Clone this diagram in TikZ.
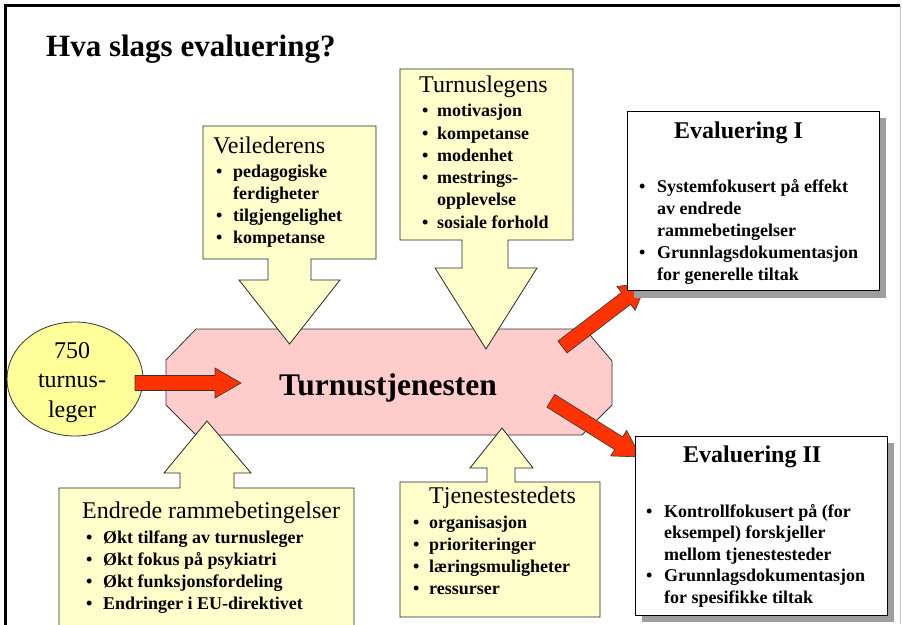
\documentclass[tikz,border=0pt]{standalone}
\usepackage{fontspec}
\setmainfont{Liberation Serif}
\usetikzlibrary{positioning}
\definecolor{lysgul}{HTML}{FFFFCC}
\definecolor{gul}{HTML}{FFFF99}
\definecolor{rosa}{HTML}{FFCCCC}
\definecolor{rod}{HTML}{FF3300}
\definecolor{skygge}{HTML}{9E9E9E}
\tikzset{rodpil/.pic={\draw[pil] (0,-7.5) -- (80,-7.5) -- (80,-15) -- (106,0) -- (80,15) -- (80,7.5) -- (0,7.5) -- cycle;}}
\begin{document}
\begin{tikzpicture}[x=1pt,y=-1pt,
 callout/.style={draw=black!85,fill=lysgul,line width=0.8pt},
 pil/.style={draw=black!80,fill=rod,line width=0.6pt},
 overskrift/.style={anchor=base west,inner sep=0pt,font=\fontsize{24}{28}\selectfont},
 evaltittel/.style={anchor=base west,inner sep=0pt,font=\fontsize{24}{28}\selectfont\bfseries},
 punkt/.style={anchor=base west,inner sep=0pt,font=\fontsize{18}{22}\selectfont\bfseries},
 prikk/.style={anchor=base west,inner sep=0pt,font=\fontsize{18}{22}\selectfont\bfseries}]
\useasboundingbox (0,0) rectangle (902,624);
% frame
\draw[line width=3pt] (5,626) -- (5,5) -- (900,5);
\draw[skygge!60,line width=0.8pt] (900.5,5) -- (900.5,624);
\node[anchor=base west,inner sep=0pt,font=\fontsize{31}{36}\selectfont\bfseries] (tittel) at (46,56) {Hva slags evaluering?};
% the service
\draw[draw=black!80,fill=rosa,line width=0.8pt] (196,329) -- (585,329) -- (612,361) -- (612,405) -- (582,435) -- (196,435) -- (166,405) -- (166,360) -- cycle;
% callouts
\draw[callout] (203,126) -- (376,126) -- (376,259) -- (311,259) -- (311,280) -- (340,280) -- (289.5,344) -- (239,280) -- (268,280) -- (268,259) -- (203,259) -- cycle;
\draw[callout] (400,69) -- (573,69) -- (573,240) -- (508,240) -- (508,268) -- (537,268) -- (486,349) -- (435,268) -- (462,268) -- (462,240) -- (400,240) -- cycle;
\draw[callout] (59,640) -- (59,488) -- (180,488) -- (180,473) -- (164,473) -- (207,421) -- (251,473) -- (234,473) -- (234,488) -- (354,488) -- (354,640);
\draw[callout] (400,617) -- (400,482) -- (487,482) -- (487,468) -- (470,468) -- (502,428) -- (533,468) -- (515,468) -- (515,482) -- (600,482) -- (600,617) -- cycle;
% doctors
\draw[draw=black!80,fill=gul,line width=0.8pt] (75,379) ellipse [x radius=68,y radius=57];
\foreach \t [count=\i] in {750,turnus-,leger}
 \node[anchor=base,inner sep=0pt,font=\fontsize{24}{28}\selectfont] (leger\i) at (72,{358+29.5*(\i-1)}) {\t};
% red arrows
\pic at (135,383) {rodpil};
\pic[rotate=37.4] at (562.5,347) {rodpil};
\pic[rotate=-32] at (550.8,400.8) {rodpil};
\node[anchor=base,inner sep=0pt,font=\fontsize{31.5}{36}\selectfont\bfseries] (tjeneste) at (388,395) {Turnustjenesten};
% evaluation boxes
\fill[skygge] (634,118) rectangle (886,298);
\draw[fill=white,line width=0.8pt] (627,111) rectangle (879,290);
\fill[skygge] (642,443) rectangle (894,622);
\draw[fill=white,line width=0.8pt] (635,436) rectangle (887,615);
\begin{scope}[shift={(203,126)}]
 \node[overskrift] (vei) at (10,27) {Veilederens};
 \foreach \b/\t [count=\i] in {1/pedagogiske,0/ferdigheter,1/tilgjengelighet,1/kompetanse}{
  \node[punkt] (vei\i) at (30,{51+22.3*(\i-1)}) {\t};
  \ifnum\b=1 \node[prikk] (veip\i) at (13,{51+22.3*(\i-1)}) {•};\fi}
\end{scope}
\begin{scope}[shift={(400,69)}]
 \node[overskrift] (tur) at (19,23) {Turnuslegens};
 \foreach \b/\t [count=\i] in {1/motivasjon,1/kompetanse,1/modenhet,1/mestrings-,0/opplevelse,1/sosiale forhold}{
  \node[punkt] (tur\i) at (37,{47.7+22.3*(\i-1)}) {\t};
  \ifnum\b=1 \node[prikk] (turp\i) at (22,{47.7+22.3*(\i-1)}) {•};\fi}
\end{scope}
\begin{scope}[shift={(59,488)}]
 \node[overskrift] (ramme) at (23,30) {Endrede rammebetingelser};
 \foreach \t [count=\i] in {Økt tilfang av turnusleger,Økt fokus på psykiatri,Økt funksjonsfordeling,Endringer i EU-direktivet}{
  \node[punkt] (ramme\i) at (44,{55+22*(\i-1)}) {\t};
  \node[prikk] (rammep\i) at (27,{55+22*(\i-1)}) {•};}
\end{scope}
\begin{scope}[shift={(400,482)}]
 \node[overskrift] (sted) at (29,21) {Tjenestestedets};
 \foreach \t [count=\i] in {organisasjon,prioriteringer,læringsmuligheter,ressurser}{
  \node[punkt] (sted\i) at (29,{46+22.3*(\i-1)}) {\t};
  \node[prikk] (stedp\i) at (13,{46+22.3*(\i-1)}) {•};}
\end{scope}
\begin{scope}[shift={(627,111)}]
 \node[evaltittel] (evalI) at (47,27) {Evaluering I};
 \foreach \b/\t [count=\i] in {1/{Systemfokusert på effekt},0/{av endrede},0/{rammebetingelser},1/{Grunnlagsdokumentasjon},0/{for generelle tiltak}}{
  \node[punkt] (evalI\i) at (30,{81+22.2*(\i-1)}) {\t};
  \ifnum\b=1 \node[prikk] (evalIp\i) at (12,{81+22.2*(\i-1)}) {•};\fi}
\end{scope}
\begin{scope}[shift={(635,436)}]
 \node[evaltittel] (evalII) at (48,26) {Evaluering II};
 \foreach \b/\t [count=\i] in {1/{Kontrollfokusert på (for},0/{eksempel) forskjeller},0/{mellom tjenestesteder},1/{Grunnlagsdokumentasjon},0/{for spesifikke tiltak}}{
  \node[punkt] (evalII\i) at (29,{81+21.6*(\i-1)}) {\t};
  \ifnum\b=1 \node[prikk] (evalIIp\i) at (11,{81+21.6*(\i-1)}) {•};\fi}
\end{scope}
\end{tikzpicture}
\end{document}
